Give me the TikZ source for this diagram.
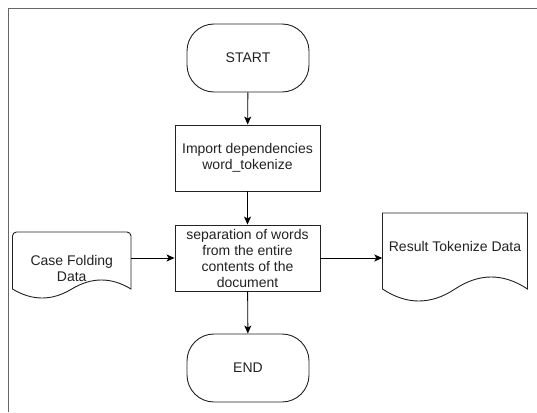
\documentclass[tikz,border=0pt]{standalone}
\usepackage{fontspec}
\setmainfont{Liberation Sans}
\usetikzlibrary{arrows.meta,calc}
\definecolor{ink}{HTML}{222222}
\definecolor{framegray}{HTML}{666666}
\begin{document}
\begin{tikzpicture}[x=1pt,y=-1pt,
  every node/.style={font=\fontsize{14}{16}\selectfont, text=ink, align=center, inner sep=0pt},
  shapeline/.style={draw=ink, line width=0.9pt},
  procbox/.style={shapeline, minimum width=145pt, minimum height=66pt},
  termbox/.style={shapeline, rounded corners=27pt, minimum width=122pt, minimum height=68pt},
  textonly/.style={draw=none},
  arr/.style={draw=black, line width=0.9pt, -{Stealth[length=8pt,width=7pt,inset=2pt]}},
  frameline/.style={draw=framegray, line width=1.5pt}]
\useasboundingbox (0,0) rectangle (537,412);
\draw[frameline] (537,8.5) -- (8.5,8.5) -- (8.5,412);
\node[termbox] (start) at (248,58) {START};
\node[procbox] (imp) at (247.5,158) {Import dependencies\\word\_tokenize};
\node[procbox] (sep) at (247.5,258) {separation of words\\from the entire\\contents of the\\document};
\node[termbox] (end) at (248,368) {END};
% Case Folding Data document
\draw[shapeline] (131,260) [rounded corners=4pt] -- (131,232) -- (12.5,232) -- (12.5,260) [sharp corners] -- (12.5,289)
  .. controls (32.25,301) and (52,301) .. (71.75,289)
  .. controls (91.5,277) and (111.3,277) .. (131,289) -- cycle;
\node[textonly, minimum width=118.5pt] (cf) at (71.75,268) {Case Folding\\Data};
% Result Tokenize Data document
\draw[shapeline] (382.5,289) -- (382.5,213) -- (527.5,213) -- (527.5,289)
  .. controls (503.33,273) and (479.17,273) .. (455,289)
  .. controls (430.83,305) and (406.67,305) .. (382.5,289) -- cycle;
\node[textonly, minimum width=145pt] (res) at (455,246) {Result Tokenize Data};
% connectors
\draw[arr] (start) -- (imp);
\draw[arr] (imp) -- (sep);
\draw[arr] (sep) -- (end);
\draw[arr] (cf.east |- sep.west) -- (sep.west);
\draw[arr] (sep.east) -- (res.west |- sep.east);
\end{tikzpicture}
\end{document}
